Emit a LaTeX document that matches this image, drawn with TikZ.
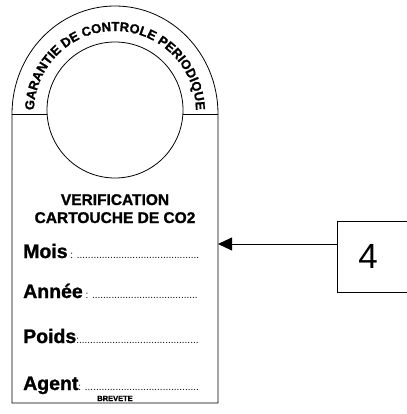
\documentclass[tikz,border=0pt]{standalone}
\usepackage{fontspec}
\setmainfont{Liberation Sans}[BoldFont={Liberation Sans Bold}, BoldFeatures={FakeBold=1.2}]
\usetikzlibrary{arrows.meta,decorations.text}

\newcommand\archfont{\bfseries\fontsize{13}{13}\selectfont}
\newcommand\fieldfont{\bfseries\fontsize{19.5}{20}\selectfont}
\newcommand\smallfont{\mdseries\fontsize{10}{10}\selectfont}
\newcommand\dotrow[1]{\foreach \d in {1,...,#1}{.}}

\tikzset{
  tagline/.style={draw, line width=0.8pt},
  field/.style={anchor=base west, inner sep=0pt},
  title/.style={font=\bfseries\fontsize{15.5}{18}\selectfont, align=center, inner sep=0pt},
  numbox/.style={draw, line width=0.9pt, anchor=north west, minimum height=71pt,
    text width=38pt, inner xsep=21pt, align=left, font=\fontsize{35}{35}\selectfont},
}

\begin{document}
\begin{tikzpicture}[x=1pt, y=-1pt]
  \useasboundingbox (0,0) rectangle (406,414);

  % tag outline
  \draw[tagline] (12,403) -- (12,114)
    arc[start angle=180, end angle=360, x radius=103, y radius=108] -- (218,403) -- cycle;
  \draw[tagline] (115,110) circle[radius=68];
  \draw[tagline] (12,114) -- (47,114);
  \draw[tagline] (183,114) -- (218,114);

  % arched text
  \path[decorate, decoration={text along path, text align=center, raise=0pt,
      text={|\archfont|GARANTIE DE CONTROLE PERIODIQUE}}]
    (34,112) arc[start angle=180, end angle=360, radius=81];

  \node[title] (head) at (115,223) [anchor=base] {VERIFICATION\\CARTOUCHE DE CO2};

  \node[field] (mois)  at (23,258) {\fieldfont Mois\smallfont{} : \dotrow{44}};
  \node[field] (annee) at (23,298) {\fieldfont Année\smallfont{} : \dotrow{38}};
  \node[field] (poids) at (23,343) {\fieldfont Poids\smallfont :\dotrow{43}};
  \node[field] (agent) at (23,390) {\fieldfont Agent\smallfont : \dotrow{41}};
  \node[anchor=base, inner sep=0pt, font=\bfseries\fontsize{7.5}{8}\selectfont] (brevet) at (115,401) {BREVETE};

  \coordinate (tagedge) at (218,244);
  \node[numbox] (four) at (337,221) {4};
  \draw[line width=0.9pt, -{Triangle[length=14pt, width=13pt]}] (tagedge -| four.west) -- (tagedge);
\end{tikzpicture}
\end{document}
